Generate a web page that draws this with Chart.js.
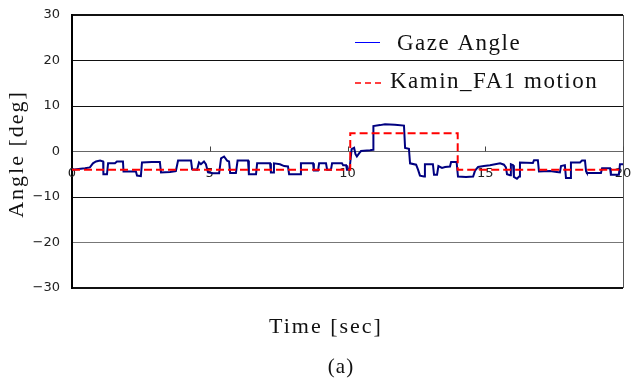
<!DOCTYPE html>
<html>
<head>
<meta charset="utf-8">
<script src="https://cdn.jsdelivr.net/npm/chart.js@4.4.0/dist/chart.umd.min.js"></script>
<style>
  body { margin: 0; background: #fff; }
  canvas { display: block; }
</style>
</head>
<body>
<canvas id="myChart" width="632" height="383"></canvas>
<script>
// gaze angle trace (sec, deg)
const gazeTime = [
  0.00, 0.47, 0.65, 0.76, 0.87, 1.02, 1.13, 1.14, 1.27, 1.31, 1.56, 1.63, 1.85, 1.87, 2.32, 2.36, 2.50, 2.54, 2.90, 3.19,
  3.23, 3.56, 3.77, 3.85, 4.32, 4.36, 4.54, 4.61, 4.68, 4.79, 4.86, 4.94, 5.12, 5.34, 5.41, 5.52, 5.63, 5.70, 5.74, 5.95,
  6.01, 6.39, 6.42, 6.68, 6.72, 7.19, 7.22, 7.30, 7.33, 7.55, 7.70, 7.84, 7.88, 8.28, 8.31, 8.75, 8.78, 8.93, 8.97, 9.22,
  9.26, 9.40, 9.44, 9.80, 9.84, 9.95, 9.98, 10.05, 10.09, 10.15, 10.24, 10.29, 10.34, 10.42, 10.49, 10.82, 10.93, 10.94, 11.18, 11.36,
  11.72, 12.05, 12.09, 12.23, 12.27, 12.49, 12.56, 12.63, 12.78, 12.81, 13.10, 13.14, 13.25, 13.30, 13.43, 13.54, 13.72, 13.76, 13.96, 14.01,
  14.30, 14.56, 14.63, 14.74, 14.95, 15.17, 15.54, 15.68, 15.75, 15.79, 15.90, 15.93, 16.01, 16.04, 16.15, 16.23, 16.26, 16.73, 16.77, 16.91,
  16.95, 17.35, 17.60, 17.71, 17.75, 17.89, 17.93, 18.08, 18.11, 18.44, 18.51, 18.62, 18.66, 18.69, 19.20, 19.24, 19.53, 19.56, 19.85, 19.89,
  20.00
];
const gazeAngle = [
  -4.0, -3.7, -3.5, -2.6, -2.2, -2.0, -2.2, -5.0, -5.0, -2.6, -2.6, -2.2, -2.2, -4.4, -4.4, -5.3, -5.4, -2.4, -2.3, -2.3,
  -4.6, -4.5, -4.3, -2.0, -2.0, -3.9, -4.0, -2.4, -2.8, -2.2, -2.8, -4.6, -4.8, -4.8, -1.5, -1.1, -2.0, -2.2, -4.7, -4.7,
  -2.0, -2.0, -5.0, -5.0, -2.6, -2.6, -4.6, -4.6, -2.6, -2.8, -3.2, -3.3, -5.0, -5.0, -2.6, -2.6, -4.2, -4.2, -2.6, -2.6,
  -4.0, -4.0, -2.6, -2.6, -3.0, -3.0, -4.0, -4.0, -3.0, 0.5, 0.8, -0.6, -1.1, -0.4, 0.1, 0.3, 0.4, 5.6, 5.8, 6.0,
  5.9, 5.7, 0.8, 0.6, -2.6, -2.9, -4.0, -5.3, -5.5, -2.8, -2.8, -5.1, -5.1, -3.2, -3.6, -3.4, -3.3, -2.3, -2.3, -5.5,
  -5.6, -5.5, -4.2, -3.4, -3.2, -3.0, -2.6, -2.9, -3.5, -5.0, -5.2, -2.8, -3.0, -5.6, -6.0, -5.5, -2.4, -2.5, -1.9, -1.9,
  -4.4, -4.3, -4.5, -4.6, -3.2, -3.0, -5.8, -5.8, -2.4, -2.4, -2.0, -2.0, -4.4, -4.7, -4.7, -3.7, -3.7, -5.1, -5.1, -2.8,
  -2.8
];
// robot motion (step)
const motionTime = [0, 10.1, 10.1, 14.0, 14.0, 20];
const motionAngle = [-4, -4, 4, 4, -4, -4];

const xTicks = [0, 5, 10, 15, 20];
const yTicks = [-30, -20, -10, 0, 10, 20, 30];

const seriesNames = ['Gaze Angle', 'Kamin_FA1 motion'];
const xTitle = 'Time [sec]';
const yTitle = 'Angle [deg]';
const caption = '(a)';

function toPoints(xs, ys) {
    return xs.map((x, i) => ({ x: x, y: ys[i] }));
}

function minusLabel(v) {
    return v < 0 ? '\u2212' + Math.abs(v) : String(v);
}

const serif = '"Liberation Serif", "DejaVu Serif", serif';
const sans = '"DejaVu Sans", sans-serif';

const decorations = {
    id: 'decorations',
    beforeDatasetsDraw(chart) {
        const ctx = chart.ctx;
        const xs = chart.scales.x;
        const ys = chart.scales.y;
        const area = chart.chartArea;
        const y0 = ys.getPixelForValue(0);
        ctx.save();
        // right border
        ctx.strokeStyle = '#555';
        ctx.lineWidth = 1;
        ctx.beginPath();
        ctx.moveTo(area.right + 0.5, area.top);
        ctx.lineTo(area.right + 0.5, area.bottom);
        ctx.stroke();
        // tick marks on the zero line
        ctx.strokeStyle = '#444';
        xTicks.forEach(t => {
            if (t === 0) return;
            const px = Math.round(xs.getPixelForValue(t)) + 0.5;
            ctx.beginPath();
            ctx.moveTo(px, y0);
            ctx.lineTo(px, y0 - 5);
            ctx.stroke();
        });
        // x tick labels under the zero line
        ctx.fillStyle = '#222';
        ctx.font = '13px ' + sans;
        ctx.textAlign = 'center';
        ctx.textBaseline = 'middle';
        xTicks.forEach(t => {
            ctx.fillText(String(t), xs.getPixelForValue(t), y0 + 22);
        });
        ctx.restore();
    },
    afterDatasetsDraw(chart) {
        const ctx = chart.ctx;
        ctx.save();
        ctx.fillStyle = '#111';
        ctx.font = '23px ' + serif;
        ctx.letterSpacing = '1.5px';
        ctx.textBaseline = 'alphabetic';

        // legend
        ctx.strokeStyle = '#0000ff';
        ctx.lineWidth = 1;
        ctx.beginPath();
        ctx.moveTo(355, 42.5);
        ctx.lineTo(380, 42.5);
        ctx.stroke();
        ctx.textAlign = 'left';
        ctx.fillText(seriesNames[0], 397, 50);

        ctx.strokeStyle = '#ff0000';
        ctx.lineWidth = 1.5;
        ctx.setLineDash([6, 4]);
        ctx.beginPath();
        ctx.moveTo(355, 83);
        ctx.lineTo(381, 83);
        ctx.stroke();
        ctx.setLineDash([]);
        ctx.fillText(seriesNames[1], 390, 88);

        // x title
        ctx.font = '22px ' + serif;
        ctx.letterSpacing = '2px';
        ctx.textAlign = 'center';
        ctx.fillText(xTitle, 326, 333);

        // caption
        ctx.font = '21px ' + serif;
        ctx.letterSpacing = '1px';
        ctx.fillText(caption, 341, 373);

        // y title
        ctx.font = '22px ' + serif;
        ctx.letterSpacing = '2px';
        ctx.translate(23, 154);
        ctx.rotate(-Math.PI / 2);
        ctx.fillText(yTitle, 0, 0);
        ctx.restore();
    }
};

const ctx = document.getElementById('myChart');

new Chart(ctx, {
    type: 'line',
    data: {
        datasets: [
            {
                label: seriesNames[1],
                data: toPoints(motionTime, motionAngle),
                borderColor: '#ff0000',
                borderWidth: 2,
                borderDash: [8, 4],
                pointRadius: 0,
                tension: 0,
                fill: false,
                order: 0
            },
            {
                label: seriesNames[0],
                data: toPoints(gazeTime, gazeAngle),
                borderColor: '#000080',
                borderWidth: 2,
                pointRadius: 0,
                tension: 0,
                fill: false,
                order: 1
            }
        ]
    },
    options: {
        responsive: false,
        animation: false,
        layout: {
            padding: { left: 0, top: 15, right: 9, bottom: 95 }
        },
        plugins: {
            legend: { display: false },
            tooltip: { enabled: false }
        },
        scales: {
            x: {
                type: 'linear',
                min: 0,
                max: 20,
                display: false
            },
            y: {
                type: 'linear',
                min: -30,
                max: 30,
                afterBuildTicks: s => { s.ticks = yTicks.map(v => ({ value: v })); },
                afterFit: s => {
                    s.width = 72;
                    s.paddingTop = 0;
                    s.paddingBottom = 0;
                },
                grid: {
                    color: c => c.tick.value === 0 ? '#666' : (c.tick.value === -20 ? '#777' : '#111'),
                    lineWidth: c => Math.abs(c.tick.value) === 30 ? 2 : 1,
                    drawTicks: false
                },
                border: { display: true, color: '#000', width: 2 },
                ticks: {
                    padding: 12,
                    color: '#222',
                    font: { family: 'DejaVu Sans', size: 13 },
                    callback: v => minusLabel(v)
                }
            }
        }
    },
    plugins: [decorations]
});
</script>
</body>
</html>
